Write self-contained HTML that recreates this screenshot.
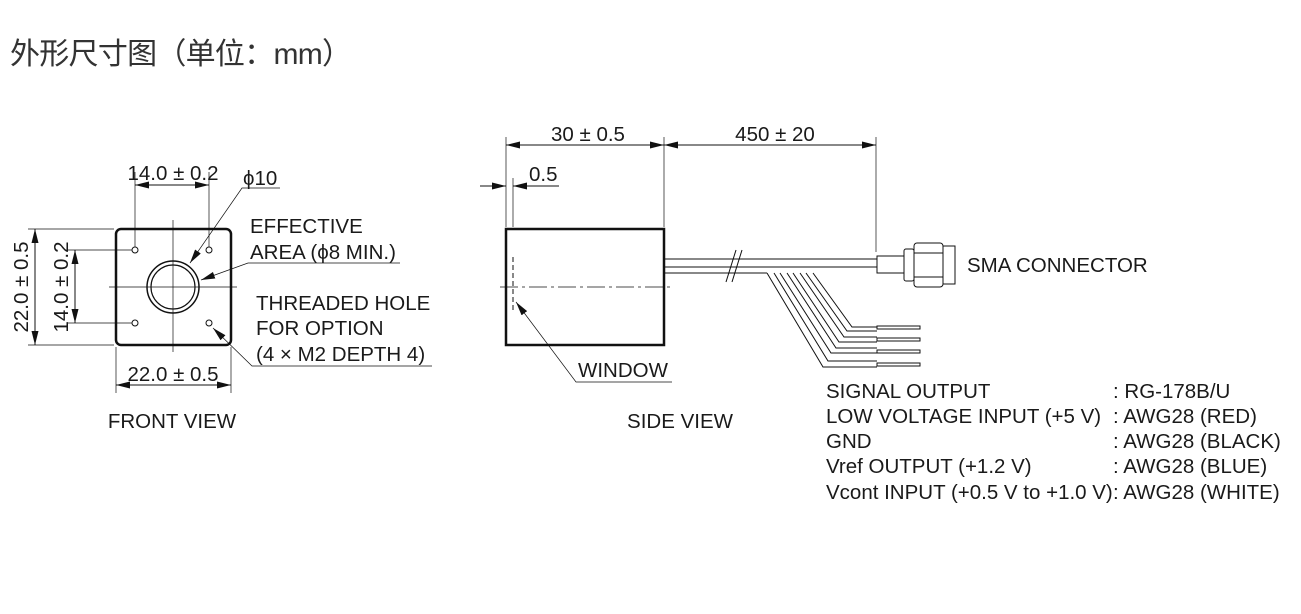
<!DOCTYPE html>
<html><head><meta charset="utf-8"><style>
html,body{margin:0;padding:0;background:#fff;}
svg{display:block;}
text{font-family:"Liberation Sans","Noto Sans CJK SC",sans-serif;fill:#1a1a1a;}
</style></head><body>
<svg width="1301" height="614" viewBox="0 0 1301 614" xmlns="http://www.w3.org/2000/svg">
<defs>
<marker id="a" viewBox="0 0 14 7" refX="14" refY="3.5" markerWidth="14" markerHeight="7" orient="auto-start-reverse" markerUnits="userSpaceOnUse"><path d="M0,0 L14,3.5 L0,7z" fill="#111"/></marker>
</defs>
<text x="10" y="64" font-size="30" fill="#333" textLength="342" style="fill:#333">外形尺寸图（单位：mm）</text>

<g stroke="#111" fill="none" stroke-width="1">
<rect x="116" y="229" width="115" height="116" rx="5" stroke-width="2.5"/>
<line x1="173" y1="220" x2="173" y2="352" stroke-width="0.7"/>
<line x1="109" y1="287" x2="237" y2="287" stroke-width="0.7"/>
<circle cx="173" cy="287" r="26" stroke-width="1.5"/>
<circle cx="173" cy="287" r="22" stroke-width="1.2"/>
<circle cx="135" cy="250" r="3"/><circle cx="209" cy="250" r="3"/>
<circle cx="135" cy="323" r="3"/><circle cx="209" cy="323" r="3"/>
<line x1="135" y1="172" x2="135" y2="247" stroke-width="0.7"/>
<line x1="209" y1="172" x2="209" y2="247" stroke-width="0.7"/>
<line x1="135" y1="185" x2="209" y2="185" marker-start="url(#a)" marker-end="url(#a)"/>
<line x1="28" y1="229" x2="114" y2="229" stroke-width="0.7"/>
<line x1="28" y1="345" x2="114" y2="345" stroke-width="0.7"/>
<line x1="35" y1="229" x2="35" y2="345" marker-start="url(#a)" marker-end="url(#a)"/>
<line x1="68" y1="250" x2="132" y2="250" stroke-width="0.7"/>
<line x1="68" y1="323" x2="132" y2="323" stroke-width="0.7"/>
<line x1="75" y1="250" x2="75" y2="323" marker-start="url(#a)" marker-end="url(#a)"/>
<line x1="116" y1="347" x2="116" y2="393" stroke-width="0.7"/>
<line x1="231" y1="347" x2="231" y2="393" stroke-width="0.7"/>
<line x1="116" y1="385" x2="231" y2="385" marker-start="url(#a)" marker-end="url(#a)"/>
<polyline points="280,188 242,188 190,263" stroke-width="0.7" marker-end="url(#a)"/>
<polyline points="400,263 248,263 201,280" stroke-width="0.7" marker-end="url(#a)"/>
<polyline points="432,366 252,366 213,328" stroke-width="0.7" marker-end="url(#a)"/>

<rect x="506" y="229" width="158" height="116" stroke-width="2.5"/>
<line x1="513" y1="257" x2="513" y2="313" stroke-dasharray="5,3"/>
<line x1="500" y1="287" x2="672" y2="287" stroke-width="0.7" stroke-dasharray="18,4,3,4"/>
<line x1="506" y1="137" x2="506" y2="227" stroke-width="0.7"/>
<line x1="513" y1="178" x2="513" y2="227" stroke-width="0.7"/>
<line x1="664" y1="137" x2="664" y2="227" stroke-width="0.7"/>
<line x1="876" y1="137" x2="876" y2="252" stroke-width="0.7"/>
<line x1="506" y1="145" x2="664" y2="145" marker-start="url(#a)" marker-end="url(#a)"/>
<line x1="664" y1="145" x2="876" y2="145" marker-start="url(#a)" marker-end="url(#a)"/>
<line x1="480" y1="186" x2="506" y2="186" marker-end="url(#a)"/>
<line x1="559" y1="186" x2="513" y2="186" marker-end="url(#a)"/>
<polyline points="672,382 576,382 516,302" stroke-width="0.7" marker-end="url(#a)"/>
<line x1="664" y1="259" x2="877" y2="259"/>
<line x1="664" y1="267" x2="877" y2="267"/>
<polyline points="664,273 767,273"/>
<line x1="726" y1="282" x2="736" y2="250"/>
<line x1="732" y1="282" x2="742" y2="250"/>
<path d="M767,273 L823,367 L877,367 M774,273 L828,361 L877,361"/>
<path d="M780,273 L831,353 L877,353 M787,273 L836,348 L877,348"/>
<path d="M793,273 L839,342 L877,342 M800,273 L844,337 L877,337"/>
<path d="M806,273 L847,331 L877,331 M813,273 L852,327 L877,327"/>
<rect x="877" y="326" width="43" height="3"/>
<rect x="877" y="338" width="43" height="3"/>
<rect x="877" y="350" width="43" height="3"/>
<rect x="877" y="363" width="43" height="3"/>
<rect x="877" y="256" width="27" height="17"/>
<rect x="904" y="249" width="10" height="32" rx="2"/>
<rect x="914" y="243" width="29" height="44" rx="3"/>
<line x1="914" y1="253" x2="943" y2="253"/><line x1="914" y1="277" x2="943" y2="277"/>
<rect x="943" y="246" width="12" height="38"/>
</g>

<g font-size="20.5">
<text x="173" y="180" text-anchor="middle">14.0 ± 0.2</text>
<text x="243" y="185">ϕ10</text>
<text x="250" y="233">EFFECTIVE</text>
<text x="250" y="259">AREA (ϕ8 MIN.)</text>
<text x="256" y="310">THREADED HOLE</text>
<text x="256" y="335">FOR OPTION</text>
<text x="256" y="361">(4 × M2 DEPTH 4)</text>
<text transform="translate(28,287) rotate(-90)" text-anchor="middle">22.0 ± 0.5</text>
<text transform="translate(68,287) rotate(-90)" text-anchor="middle">14.0 ± 0.2</text>
<text x="173" y="381" text-anchor="middle">22.0 ± 0.5</text>
<text x="172" y="428" text-anchor="middle">FRONT VIEW</text>
<text x="588" y="141" text-anchor="middle">30 ± 0.5</text>
<text x="775" y="141" text-anchor="middle">450 ± 20</text>
<text x="529" y="181">0.5</text>
<text x="578" y="377">WINDOW</text>
<text x="680" y="428" text-anchor="middle">SIDE VIEW</text>
<text x="967" y="272">SMA CONNECTOR</text>
<text x="826" y="398">SIGNAL OUTPUT</text>
<text x="826" y="423">LOW VOLTAGE INPUT (+5 V)</text>
<text x="826" y="448">GND</text>
<text x="826" y="473">Vref OUTPUT (+1.2 V)</text>
<text x="826" y="499">Vcont INPUT (+0.5 V to +1.0 V)</text>
<text x="1113" y="398">: RG-178B/U</text>
<text x="1113" y="423">: AWG28 (RED)</text>
<text x="1113" y="448">: AWG28 (BLACK)</text>
<text x="1113" y="473">: AWG28 (BLUE)</text>
<text x="1113" y="499">: AWG28 (WHITE)</text>
</g>
</svg>
</body></html>
